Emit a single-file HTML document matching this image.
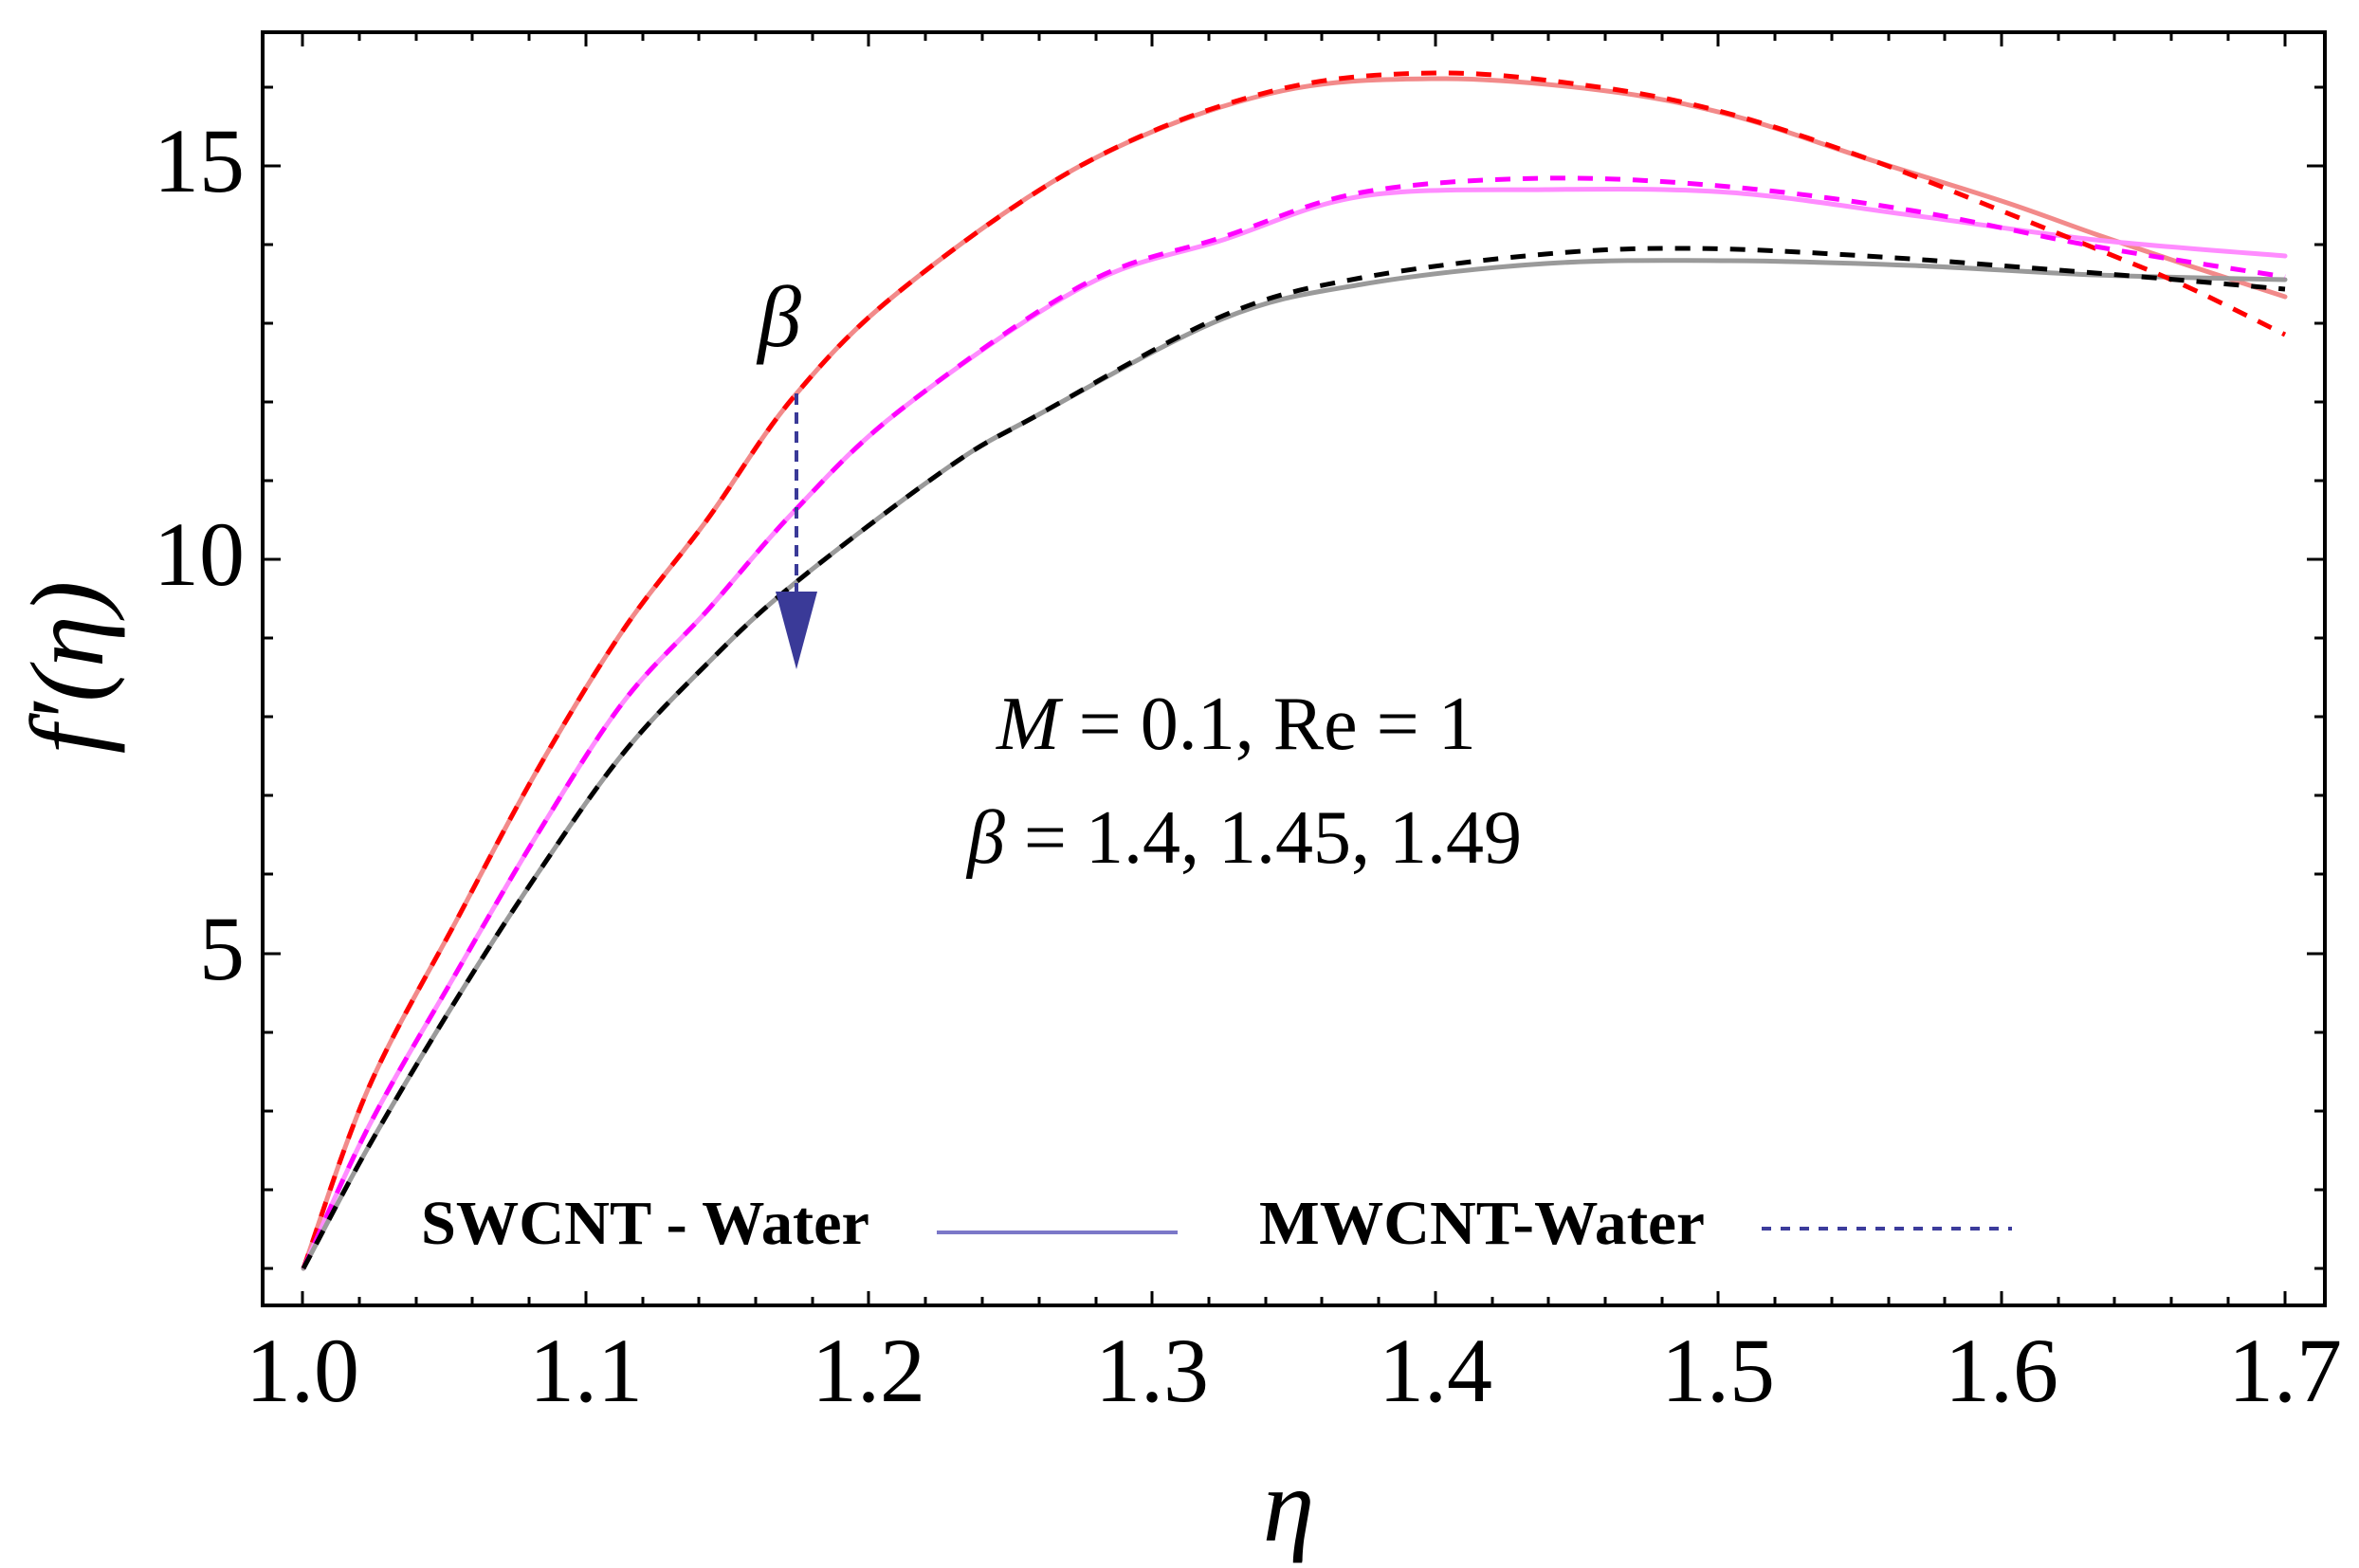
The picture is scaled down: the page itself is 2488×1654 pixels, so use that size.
<!DOCTYPE html>
<html><head><meta charset="utf-8"><style>
html,body{margin:0;padding:0;background:#fff}
svg{display:block}
text{font-family:"Liberation Serif",serif;fill:#000}
</style></head><body>
<svg id="chart" width="2488" height="1654" viewBox="0 0 2488 1654" xmlns="http://www.w3.org/2000/svg">
<rect width="2488" height="1654" fill="#fff"/>
<rect x="277" y="34" width="2175" height="1343" fill="none" stroke="#000" stroke-width="4"/>
<g stroke="#000" stroke-width="3">
<path d="M319 1377v-15M618 1377v-15M916 1377v-15M1215 1377v-15M1514 1377v-15M1812 1377v-15M2111 1377v-15M2410 1377v-15
M319 34v15M618 34v15M916 34v15M1215 34v15M1514 34v15M1812 34v15M2111 34v15M2410 34v15"/>
<path d="M379 1377v-9M439 1377v-9M498 1377v-9M558 1377v-9M678 1377v-9M737 1377v-9M797 1377v-9M857 1377v-9M976 1377v-9M1036 1377v-9M1096 1377v-9M1156 1377v-9M1275 1377v-9M1335 1377v-9M1394 1377v-9M1454 1377v-9M1574 1377v-9M1633 1377v-9M1693 1377v-9M1753 1377v-9M1872 1377v-9M1932 1377v-9M1992 1377v-9M2051 1377v-9M2171 1377v-9M2230 1377v-9M2290 1377v-9M2350 1377v-9
M379 34v9M439 34v9M498 34v9M558 34v9M678 34v9M737 34v9M797 34v9M857 34v9M976 34v9M1036 34v9M1096 34v9M1156 34v9M1275 34v9M1335 34v9M1394 34v9M1454 34v9M1574 34v9M1633 34v9M1693 34v9M1753 34v9M1872 34v9M1932 34v9M1992 34v9M2051 34v9M2171 34v9M2230 34v9M2290 34v9M2350 34v9"/>
<path d="M277 175h19M277 590h19M277 1006h19M2452 175h-19M2452 590h-19M2452 1006h-19"/>
<path d="M277 92h11M277 258h11M277 341h11M277 424h11M277 507h11M277 673h11M277 756h11M277 839h11M277 922h11M277 1089h11M277 1172h11M277 1255h11M277 1338h11
M2452 92h-11M2452 258h-11M2452 341h-11M2452 424h-11M2452 507h-11M2452 673h-11M2452 756h-11M2452 839h-11M2452 922h-11M2452 1089h-11M2452 1172h-11M2452 1255h-11M2452 1338h-11"/>
</g>
<g font-size="96" text-anchor="middle">
<text x="319" y="1478">1.0</text><text x="618" y="1478">1.1</text><text x="916" y="1478">1.2</text><text x="1215" y="1478">1.3</text><text x="1514" y="1478">1.4</text><text x="1812" y="1478">1.5</text><text x="2111" y="1478">1.6</text><text x="2410" y="1478">1.7</text>
</g>
<g font-size="96" text-anchor="end">
<text x="258" y="202">15</text><text x="258" y="617">10</text><text x="258" y="1033">5</text>
</g>
<text x="1359" y="1625" font-size="110" font-style="italic" text-anchor="middle">η</text>
<text transform="translate(108,704) rotate(-90)" font-size="110" font-style="italic" text-anchor="middle">f′(η)</text>

<g fill="none" stroke-width="5" stroke-linejoin="round" stroke-linecap="round">
<polyline class="sm" stroke="#f28a8a" points="320,1338 389,1147 483,968 568,810 657,665 746,548 836,420 949,307 1143,173 1338,99 1514,83 1687,95 1824,121 1977,170 2114,213 2210,247 2308,280 2410,313"/>
<polyline class="sm" stroke="#ff8cff" points="320,1338 389,1188 479,1030 568,878 657,741 746,644 836,541 949,433 1143,302 1290,253 1436,207 1630,200 1824,203 2016,227 2210,253 2410,270"/>
<polyline class="sm" stroke="#9a9a9a" points="320,1338 389,1209 479,1058 568,920 657,795 746,700 836,617 1000,493 1096,437 1290,336 1436,300 1630,278 1824,275 2016,280 2210,290 2410,295"/>
</g>
<g fill="none" stroke-width="5" stroke-dasharray="16 13">
<polyline class="sm" stroke="#ff0000" points="320,1338 389,1147 483,968 568,810 657,665 746,548 836,420 949,307 1143,173 1338,97 1514,77 1687,92 1824,120 1977,170 2105,220 2222,267 2308,303 2410,353"/>
<polyline class="sm" stroke="#ff00ff" points="320,1338 389,1188 479,1030 568,878 657,741 746,644 836,541 949,433 1143,300 1290,250 1436,203 1630,188 1824,197 2016,222 2210,260 2410,292"/>
<polyline class="sm" stroke="#000000" points="320,1338 389,1209 479,1058 568,920 657,795 746,700 836,617 1000,493 1096,437 1290,333 1436,293 1630,268 1783,262 1968,270 2210,288 2410,305"/>
</g>
<line x1="840" y1="415" x2="840" y2="628" stroke="#3a3a98" stroke-width="4" stroke-dasharray="12 8"/>
<polygon points="818,624 862,624 840,706" fill="#3a3a98"/>
<text x="822" y="365" font-size="92" font-style="italic" text-anchor="middle">β</text>

<text x="1051" y="790" font-size="80"><tspan font-style="italic">M</tspan>  = 0.1, Re = 1</text>
<text x="1020" y="910" font-size="80"><tspan font-style="italic">β</tspan> = 1.4, 1.45, 1.49</text>

<text x="444" y="1312" font-size="66" font-weight="bold" textLength="473" lengthAdjust="spacingAndGlyphs">SWCNT - Water</text>
<line x1="988" y1="1300" x2="1242" y2="1300" stroke="#7b78c8" stroke-width="4"/>
<text x="1328" y="1312" font-size="66" font-weight="bold" textLength="470" lengthAdjust="spacingAndGlyphs">MWCNT-Water</text>
<line x1="1858" y1="1296" x2="2122" y2="1296" stroke="#3c3c9c" stroke-width="4" stroke-dasharray="10 10"/>
</svg>
<script>
(function(){
var NS="http://www.w3.org/2000/svg";
var pls=document.querySelectorAll("polyline.sm");
for(var k=0;k<pls.length;k++){
 var pl=pls[k];
 var pts=pl.getAttribute("points").trim().split(/\s+/).map(function(s){var a=s.split(",");return [+a[0],+a[1]];});
 var d="M"+pts[0][0]+","+pts[0][1];
 for(var i=0;i<pts.length-1;i++){
  var p0=pts[i>0?i-1:i],p1=pts[i],p2=pts[i+1],p3=pts[i+2<pts.length?i+2:i+1];
  var c1x=p1[0]+(p2[0]-p0[0])/6,c1y=p1[1]+(p2[1]-p0[1])/6;
  var c2x=p2[0]-(p3[0]-p1[0])/6,c2y=p2[1]-(p3[1]-p1[1])/6;
  d+=" C"+c1x.toFixed(1)+","+c1y.toFixed(1)+" "+c2x.toFixed(1)+","+c2y.toFixed(1)+" "+p2[0]+","+p2[1];
 }
 var p=document.createElementNS(NS,"path");
 p.setAttribute("d",d);
 p.setAttribute("stroke",pl.getAttribute("stroke"));
 pl.parentNode.replaceChild(p,pl);
}
})();
</script>
</body></html>
